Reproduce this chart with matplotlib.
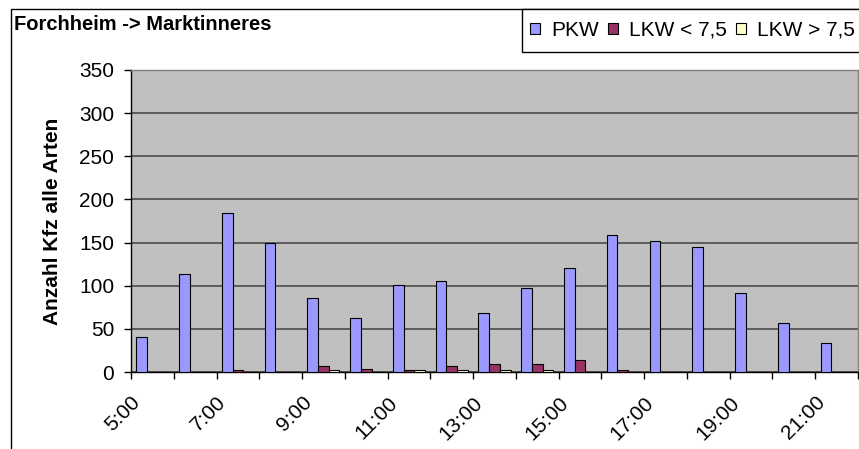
import matplotlib
matplotlib.use("Agg")
import matplotlib.pyplot as plt
import matplotlib.transforms as mtransforms
import numpy as np
from matplotlib.patches import Rectangle

plt.rcParams['font.family'] = ['Liberation Sans', 'DejaVu Sans']

hours = ["5:00", "6:00", "7:00", "8:00", "9:00", "10:00", "11:00", "12:00", "13:00",
         "14:00", "15:00", "16:00", "17:00", "18:00", "19:00", "20:00", "21:00"]
pkw = [40, 113, 184, 150, 86, 63, 101, 106, 68, 97, 120, 159, 152, 145, 92, 57, 34]
lkw_klein = [0, 0, 2, 0, 7, 4, 2, 7, 9, 9, 14, 2, 0, 0, 0, 0, 0]
lkw_gross = [0, 0, 0, 0, 2, 0, 2, 2, 2, 2, 0, 0, 0, 0, 0, 0, 0]
series = ["PKW", "LKW < 7,5", "LKW > 7,5"]
colors = ["#9999FF", "#993366", "#FFFFCC"]

W, H = 859, 449
fig = plt.figure(figsize=(W / 100, H / 100), dpi=100)
ax = fig.add_axes([131 / W, (H - 372) / H, (858 - 131) / W, (372 - 70) / H])
ax.set_facecolor("#C0C0C0")

x = np.arange(len(hours))
w = 0.25
for i, (vals, name, c) in enumerate(zip([pkw, lkw_klein, lkw_gross], series, colors)):
    ax.bar(x + (i - 1) * w, vals, width=w, color=c, edgecolor="black",
           linewidth=0.8, label=name, zorder=3)

ax.set_xlim(-0.5, len(hours) - 0.5)
ax.set_ylim(0, 350)
ax.set_yticks(range(0, 351, 50))
ax.yaxis.grid(True, color="#555555", linewidth=1.3, zorder=1)
ax.set_axisbelow(True)

ax.set_xticks(x[::2])
ax.set_xticklabels(hours[::2], rotation=45, ha="right", va="top")
ax.set_xticks(np.arange(-0.5, len(hours)), minor=True)
ax.tick_params(axis="x", which="major", length=0, pad=15, labelsize=15)
ax.tick_params(axis="x", which="minor", length=5, width=1, direction="out")
ax.tick_params(axis="y", length=5, width=1, pad=7, labelsize=15)
shift = mtransforms.ScaledTranslation(-8 / 100, 0, fig.dpi_scale_trans)
for lab in ax.get_xticklabels():
    lab.set_transform(lab.get_transform() + shift)

for s in ["left", "bottom"]:
    ax.spines[s].set_color("black")
    ax.spines[s].set_linewidth(1)
for s in ["top", "right"]:
    ax.spines[s].set_color("#808080")
    ax.spines[s].set_linewidth(1)

# chart frame
fig.add_artist(Rectangle((11 / W, -0.1), 1.0, 1 - 9 / H + 0.1, transform=fig.transFigure,
                         fill=False, edgecolor="black", linewidth=1))

fig.text(14 / W, 1 - 24.5 / H, "Forchheim -> Marktinneres", fontsize=14.5,
         fontweight="bold", va="center", ha="left")
fig.text(53 / W, 1 - 221 / H, "Anzahl Kfz alle Arten", fontsize=15,
         fontweight="bold", rotation=90, va="center", ha="center")

# legend
fig.add_artist(Rectangle((522 / W, 1 - 52 / H), 0.5, 43 / H, transform=fig.transFigure,
                         facecolor="white", edgecolor="black", linewidth=1, zorder=5))
leg = fig.legend(loc="center left", bbox_to_anchor=(530 / W, 1 - 30.5 / H), ncol=3,
                 frameon=False, fontsize=15, handlelength=0.48, handleheight=0.48,
                 handletextpad=0.53, columnspacing=0.43, borderpad=0, borderaxespad=0)
leg.set_zorder(6)

fig.savefig("out.png", dpi=100)
